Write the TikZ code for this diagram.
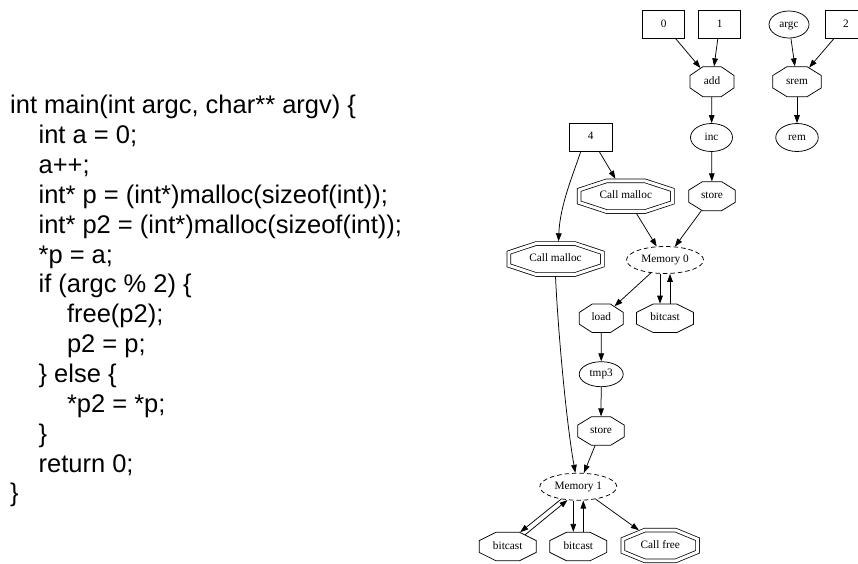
\documentclass[tikz,border=0pt]{standalone}
\usepackage{fontspec}
\newfontfamily\srcfam{Liberation Sans}
\newfontfamily\gvfam{Liberation Serif}
\newcommand\srcfont{\srcfam\fontsize{25.5}{30}\selectfont}
\newcommand\gvfont{\gvfam\fontsize{11.3}{13.5}\selectfont}
\usetikzlibrary{arrows.meta,shapes.geometric}

% Octagon node shape: rectangle anchors, octagonal outline and border
\makeatletter
\newdimen\octL \newdimen\octR \newdimen\octB \newdimen\octT
\newdimen\octCX \newdimen\octCY \newdimen\octDX \newdimen\octDY
\pgfdeclareshape{octbox}{%
  \inheritsavedanchors[from=rectangle]%
  \inheritanchor[from=rectangle]{center}%
  \inheritanchor[from=rectangle]{north}%
  \inheritanchor[from=rectangle]{south}%
  \inheritanchor[from=rectangle]{east}%
  \inheritanchor[from=rectangle]{west}%
  \inheritanchor[from=rectangle]{north east}%
  \inheritanchor[from=rectangle]{north west}%
  \inheritanchor[from=rectangle]{south east}%
  \inheritanchor[from=rectangle]{south west}%
  \anchor{text}{\pgfpointorigin}%
  \anchorborder{%
    \octDX=\pgf@x \octDY=\pgf@y
    \southwest \octL=\pgf@x \octB=\pgf@y
    \northeast \octR=\pgf@x \octT=\pgf@y
    \pgfmathsetmacro\octha{(\octR-\octL)/2}%
    \pgfmathsetmacro\octhb{(\octT-\octB)/2}%
    \pgfmathsetmacro\octdx{max(abs(\octDX),0.01)}%
    \pgfmathsetmacro\octdy{max(abs(\octDY),0.01)}%
    \pgfmathsetmacro\octt{min(\octha/\octdx,\octhb/\octdy,2.4142/(\octdx/(0.586*\octha)+\octdy/(0.586*\octhb)))}%
    \pgf@x=\octt\octDX \advance\pgf@x by 0.5\octL \advance\pgf@x by 0.5\octR
    \pgf@y=\octt\octDY \advance\pgf@y by 0.5\octB \advance\pgf@y by 0.5\octT
  }%
  \backgroundpath{%
    \pgfmathsetlength\octCX{\pgfkeysvalueof{/pgf/outer xsep}}%
    \pgfmathsetlength\octCY{\pgfkeysvalueof{/pgf/outer ysep}}%
    \southwest \octL=\pgf@x \octB=\pgf@y
    \advance\octL by \octCX \advance\octB by \octCY
    \northeast \octR=\pgf@x \octT=\pgf@y
    \advance\octR by -\octCX \advance\octT by -\octCY
    \octCX=\octR \advance\octCX by -\octL \octCX=0.293\octCX
    \octCY=\octT \advance\octCY by -\octB \octCY=0.293\octCY
    \pgfpathmoveto{\pgfqpoint{\dimexpr\octL+\octCX\relax}{\octB}}%
    \pgfpathlineto{\pgfqpoint{\dimexpr\octR-\octCX\relax}{\octB}}%
    \pgfpathlineto{\pgfqpoint{\octR}{\dimexpr\octB+\octCY\relax}}%
    \pgfpathlineto{\pgfqpoint{\octR}{\dimexpr\octT-\octCY\relax}}%
    \pgfpathlineto{\pgfqpoint{\dimexpr\octR-\octCX\relax}{\octT}}%
    \pgfpathlineto{\pgfqpoint{\dimexpr\octL+\octCX\relax}{\octT}}%
    \pgfpathlineto{\pgfqpoint{\octL}{\dimexpr\octT-\octCY\relax}}%
    \pgfpathlineto{\pgfqpoint{\octL}{\dimexpr\octB+\octCY\relax}}%
    \pgfpathclose
  }%
}
\makeatother

\begin{document}
\begin{tikzpicture}[x=1pt,y=-1pt,
  srcline/.style={anchor=base west, inner sep=0pt, font=\srcfont},
  gnode/.style={draw, line width=0.75pt, inner sep=0pt, font=\gvfont,
    text height=7.7pt, text depth=2.5pt},
  boxn/.style={gnode, rectangle, minimum width=42pt, minimum height=27.5pt},
  ovaln/.style={gnode, ellipse},
  octn/.style={gnode, shape=octbox},
  bcsize/.style={minimum width=57pt, minimum height=28.5pt},
  dbl/.style={octn, double, double distance=3pt, outer sep=2.2pt},
  memn/.style={ovaln, dash pattern=on 4.5pt off 3pt, minimum width=77pt, minimum height=27pt},
  link/.style={draw, line width=0.75pt, -{Triangle[length=8pt,width=5.6pt]}}]
\useasboundingbox (0,0) rectangle (858,563);
\fill[white] (0,0) rectangle (858,563);

% source code
\node[srcline] (c1)  at (10,113.5)   {int main(int argc, char** argv) \{};
\node[srcline] (c2)  at (38.4,143.4) {int a = 0;};
\node[srcline] (c3)  at (38.4,173.3) {a++;};
\node[srcline] (c4)  at (38.4,203.2) {int* p = (int*)malloc(sizeof(int));};
\node[srcline] (c5)  at (38.4,233.1) {int* p2 = (int*)malloc(sizeof(int));};
\node[srcline] (c6)  at (38.4,263.0) {*p = a;};
\node[srcline] (c7)  at (38.4,292.9) {if (argc \% 2) \{};
\node[srcline] (c8)  at (66.8,322.8) {free(p2);};
\node[srcline] (c9)  at (66.8,352.7) {p2 = p;};
\node[srcline] (c10) at (38.4,382.6) {\} else \{};
\node[srcline] (c11) at (66.8,412.5) {*p2 = *p;};
\node[srcline] (c12) at (38.4,442.4) {\}};
\node[srcline] (c13) at (38.4,472.3) {return 0;};
\node[srcline] (c14) at (10,501)     {\}};

% graph nodes
\node[boxn] (n0) at (663.7,24.5) {0};
\node[boxn] (n1) at (719.7,24.5) {1};
\node[ovaln, minimum width=40pt, minimum height=27pt] (argc) at (789,24.5) {argc};
\node[boxn] (n2) at (846,24.5) {2};
\node[octn, minimum width=44pt, minimum height=30pt] (add) at (712,81.7) {add};
\node[octn, minimum width=48.5pt, minimum height=30pt] (srem) at (797,81.7) {srem};
\node[ovaln, minimum width=42pt, minimum height=28pt] (inc) at (711.5,137.5) {inc};
\node[ovaln, minimum width=42.5pt, minimum height=28pt] (rem) at (797,137.5) {rem};
\node[boxn, minimum width=43pt, minimum height=28pt] (n4) at (590.7,137.2) {4};
\node[dbl, minimum width=93.3pt, minimum height=30.6pt] (mallocA) at (625.8,196.2) {Call malloc};
\node[octn, minimum width=46.6pt, minimum height=29pt] (storeA) at (712,196.2) {store};
\node[dbl, minimum width=93.5pt, minimum height=31pt] (mallocB) at (555.5,259) {Call malloc};
\node[memn] (mem0) at (665,260) {Memory 0};
\node[octn, minimum width=44pt, minimum height=28.5pt] (load) at (601.3,318.3) {load};
\node[octn, bcsize] (castA) at (665,318.3) {bitcast};
\node[ovaln, minimum width=44pt, minimum height=25pt] (tmp) at (601.2,374.2) {tmp3};
\node[octn, minimum width=46.6pt, minimum height=28.5pt] (storeB) at (601,431) {store};
\node[memn] (mem1) at (578.3,486.7) {Memory 1};
\node[octn, bcsize] (castB) at (507.7,546.5) {bitcast};
\node[octn, bcsize] (castC) at (578.3,546.5) {bitcast};
\node[dbl, minimum width=74.6pt, minimum height=30.7pt] (freeN) at (660.2,545.5) {Call free};

% connectors
\draw[link] (n0) -- (add);
\draw[link] (n1) -- (add);
\draw[link] (argc) -- (srem);
\draw[link] (n2) -- (srem);
\draw[link] (add) -- (inc);
\draw[link] (srem) -- (rem);
\draw[link] (inc) -- (storeA);
\draw[link] (n4) -- (mallocA);
\draw[link] ([xshift=-10pt]n4.south) .. controls (573,175) and (560,205) .. ([xshift=3pt]mallocB.north);
\draw[link] (mallocA) -- (mem0);
\draw[link] (storeA) -- (mem0);
\draw[link] (mem0) -- (load);
\draw[link] ([xshift=-5pt]mem0.south) -- ([xshift=-5pt]castA.north);
\draw[link] ([xshift=5pt]castA.north) -- ([xshift=5pt]mem0.south);
\draw[link] (mallocB.south) .. controls (558,330) and (566,420) .. ([xshift=-3pt]mem1.north);
\draw[link] (load) -- (tmp);
\draw[link] (tmp) -- (storeB);
\draw[link] (storeB) -- (mem1);
\draw[link] (mem1.216) -- (castB.49);
\draw[link] (castB.34) -- (mem1.231);
\draw[link] ([xshift=-5pt]mem1.south) -- ([xshift=-5pt]castC.north);
\draw[link] ([xshift=5pt]castC.north) -- ([xshift=5pt]mem1.south);
\draw[link] (mem1) -- (freeN);
\end{tikzpicture}
\end{document}
